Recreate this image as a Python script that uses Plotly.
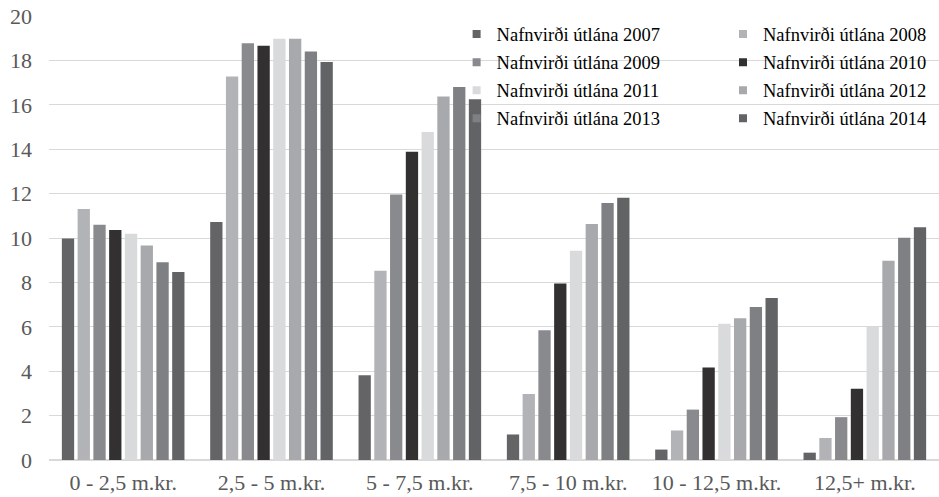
import plotly.graph_objects as go

categories = ["0 - 2,5 m.kr.", "2,5 - 5 m.kr.", "5 - 7,5 m.kr.", "7,5 - 10 m.kr.", "10 - 12,5 m.kr.", "12,5+ m.kr."]
series_names = ["Nafnvirði útlána 2007", "Nafnvirði útlána 2008", "Nafnvirði útlána 2009",
                "Nafnvirði útlána 2010", "Nafnvirði útlána 2011", "Nafnvirði útlána 2012",
                "Nafnvirði útlána 2013", "Nafnvirði útlána 2014"]
v2007 = [9.98, 10.72, 3.82, 1.15, 0.47, 0.33]
v2008 = [11.31, 17.27, 8.52, 2.97, 1.33, 0.99]
v2009 = [10.60, 18.77, 11.96, 5.84, 2.27, 1.93]
v2010 = [10.36, 18.66, 13.89, 7.95, 4.17, 3.21]
v2011 = [10.19, 18.98, 14.77, 9.43, 6.14, 6.00]
v2012 = [9.66, 18.98, 16.37, 10.63, 6.38, 8.97]
v2013 = [8.91, 18.40, 16.80, 11.58, 6.89, 10.01]
v2014 = [8.47, 17.93, 16.25, 11.81, 7.30, 10.48]
y_ticks = [0, 2, 4, 6, 8, 10, 12, 14, 16, 18, 20]

values = [v2007, v2008, v2009, v2010, v2011, v2012, v2013, v2014]
colors = ["#646466", "#B2B3B6", "#898A8D", "#323031", "#D9DADC", "#A8A9AC", "#7F8083", "#626365"]

fig = go.Figure()
for name, vals, col in zip(series_names, values, colors):
    fig.add_trace(go.Bar(x=categories, y=vals, name=name, marker_color=col,
                         marker_line_width=0, showlegend=False))

# legend entries (small square swatches), split into two columns
for i, (name, col) in enumerate(zip(series_names, colors)):
    fig.add_trace(go.Scatter(x=[None], y=[None], mode="markers", name=name,
                             marker=dict(symbol="square", size=8, color=col),
                             legend="legend" if i % 2 == 0 else "legend2",
                             legendgroup="g%d" % i, showlegend=True))

legend_common = dict(
    font=dict(family="Liberation Serif", size=18.5, color="#000000"),
    bgcolor="rgba(0,0,0,0)", borderwidth=0, orientation="v",
    xanchor="left", yanchor="top", tracegroupgap=1, itemclick=False,
)

fig.update_layout(
    width=939, height=497,
    margin=dict(l=49, r=0, t=16, b=37, pad=0),
    paper_bgcolor="white", plot_bgcolor="white",
    barmode="group", bargap=0.15, bargroupgap=0.22,
    font=dict(family="Liberation Serif", size=22, color="#595959"),
    legend=dict(x=0.458, y=1.001, **legend_common),
    legend2=dict(x=0.7573, y=1.001, **legend_common),
    xaxis=dict(showgrid=False, showline=False, zeroline=False, ticks="",
               ticklabelstandoff=7,
               tickfont=dict(family="Liberation Serif", size=22, color="#595959"),
               automargin=False, fixedrange=True),
    yaxis=dict(range=[0, 20], tickvals=y_ticks, showgrid=True, gridcolor="#D9D9D9",
               gridwidth=1.3, zeroline=True, zerolinecolor="#D9D9D9", zerolinewidth=1.6,
               showline=False, ticks="", ticklabelstandoff=16,
               tickfont=dict(family="Liberation Serif", size=22, color="#595959"),
               automargin=False, fixedrange=True),
)

fig.write_html("out.html", config={"displayModeBar": False},
               post_script="document.body.style.margin='0';")
